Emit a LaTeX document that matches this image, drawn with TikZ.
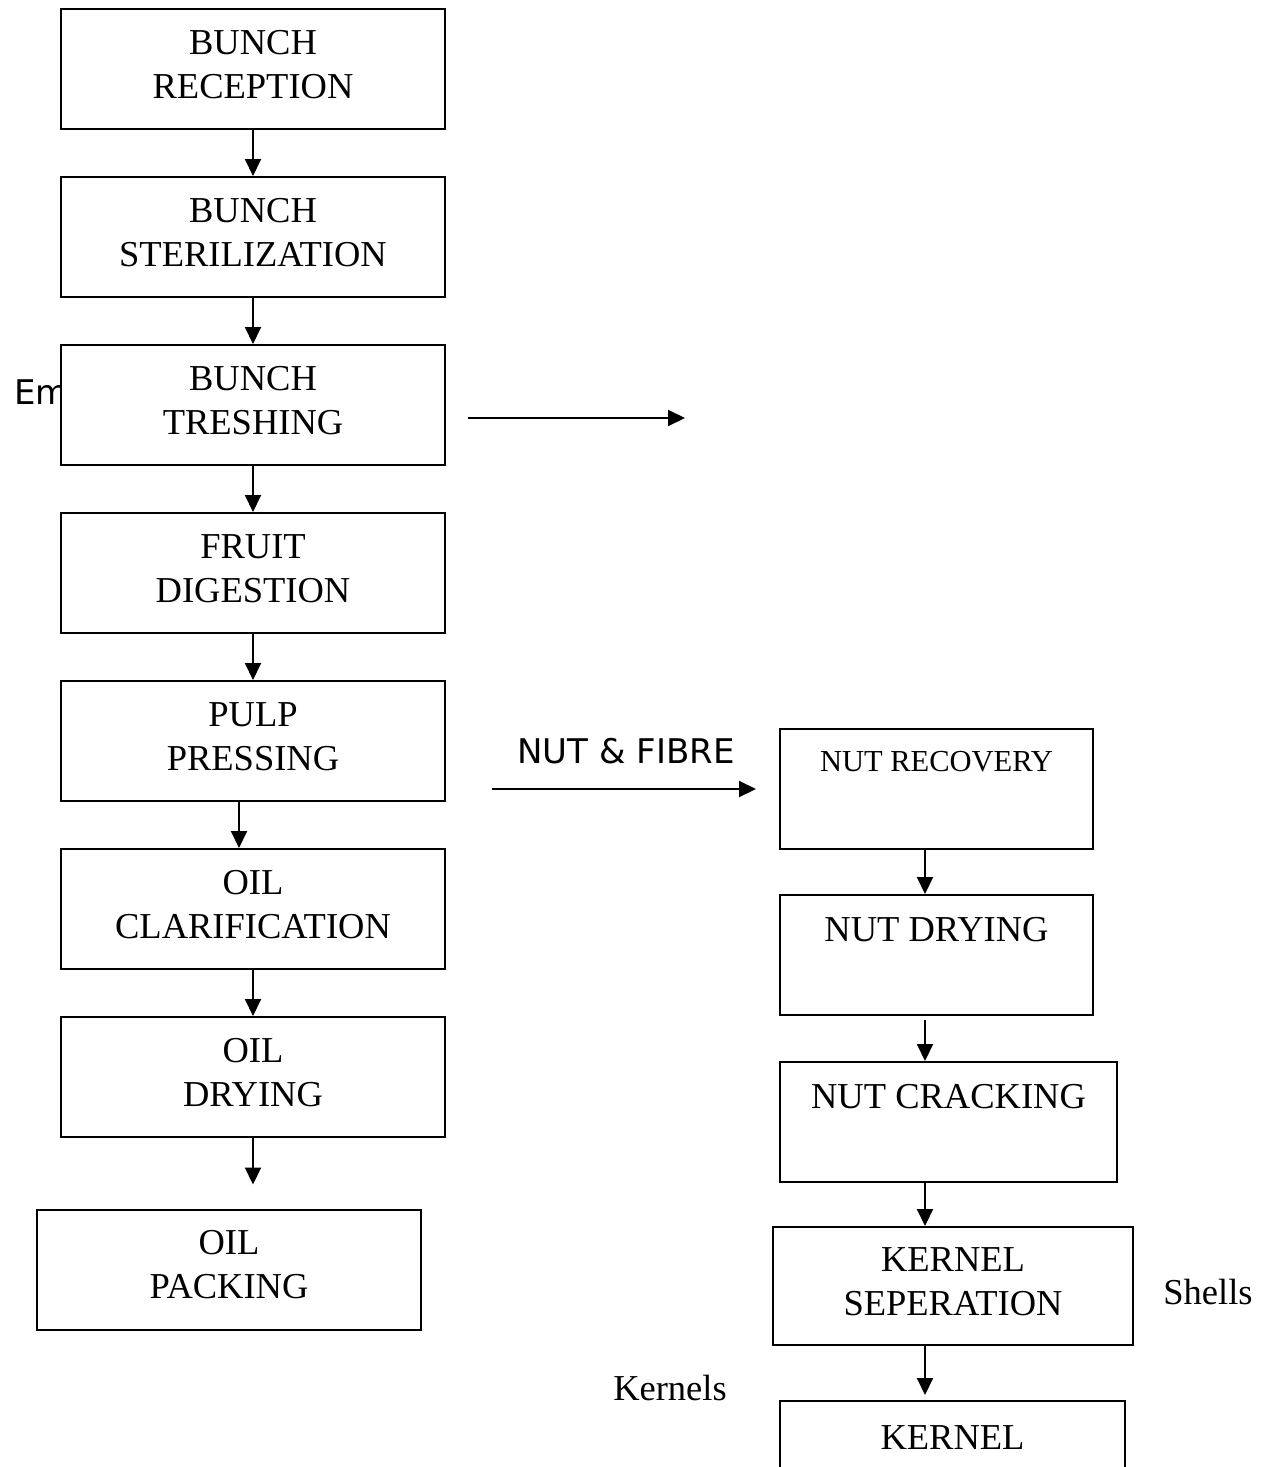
\documentclass[tikz,border=0pt]{standalone}
\usepackage{fontspec}
\setmainfont{Liberation Serif}
\newfontfamily\sansf{DejaVu Sans}
\usetikzlibrary{arrows.meta}
\begin{document}
\begin{tikzpicture}[x=1pt,y=-1pt,
  box/.style={draw,line width=2pt,fill=white,inner sep=0pt,minimum width=384pt,minimum height=120pt},
  txt/.style={inner sep=0pt,anchor=base,align=center,font=\fontsize{36.5}{44}\selectfont},
  stxt/.style={inner sep=0pt,anchor=base,font=\sansf\fontsize{34}{40}\selectfont},
  arr/.style={line width=2pt,-{Triangle[length=17pt,width=16pt]}}]
\clip (0,0) rectangle (1275,1467);
\fill[white] (0,0) rectangle (1275,1467);
% partly hidden label
\node[stxt,anchor=base west] (em) at (14,404) {Em};
% left column
\node[box] (b1) at (253,69) {};
\node[box] (b2) at (253,237) {};
\node[box] (b3) at (253,405) {};
\node[box] (b4) at (253,573) {};
\node[box] (b5) at (253,741) {};
\node[box] (b6) at (253,909) {};
\node[box] (b7) at (253,1077) {};
\node[box] (b8) at (229,1269.5) {};
\node[txt] (t1) at (253,98) {BUNCH\\RECEPTION};
\node[txt] (t2) at (253,266) {BUNCH\\STERILIZATION};
\node[txt] (t3) at (253,434) {BUNCH\\TRESHING};
\node[txt] (t4) at (253,602) {FRUIT\\DIGESTION};
\node[txt] (t5) at (253,770) {PULP\\PRESSING};
\node[txt] (t6) at (253,938) {OIL\\CLARIFICATION};
\node[txt] (t7) at (253,1106) {OIL\\DRYING};
\node[txt] (t8) at (229,1298) {OIL\\PACKING};
\draw[arr] (b1.south) -- (b2.north);
\draw[arr] (b2.south) -- (b3.north);
\draw[arr] (b3.south) -- (b4.north);
\draw[arr] (b4.south) -- (b5.north);
\draw[arr] ([xshift=-14pt]b5.south) -- ([xshift=-14pt]b6.north);
\draw[arr] (b6.south) -- (b7.north);
\draw[arr,shorten >=24pt] (b7.south) -- (b7.south |- b8.north);
% right column
\coordinate (rc) at (925,0);
\node[box,minimum width=313pt,minimum height=120pt] (r1) at (936.5,789) {};
\node[box,minimum width=313pt,minimum height=120pt] (r2) at (936.5,955) {};
\node[box,minimum width=337pt,minimum height=120pt] (r3) at (948.5,1122) {};
\node[box,minimum width=360pt,minimum height=118pt] (r4) at (953,1286) {};
\node[box,minimum width=345pt,minimum height=120pt] (r5) at (952.5,1461) {};
\node[txt,font=\fontsize{30.5}{36}\selectfont] (s1) at (936.5,771) {NUT RECOVERY};
\node[txt] (s2) at (936.5,941) {NUT DRYING};
\node[txt] (s3) at (948.5,1108) {NUT CRACKING};
\node[txt] (s4) at (953,1315) {KERNEL\\SEPERATION};
\node[txt] (s5) at (952.5,1449) {KERNEL};
\draw[arr] (r1.south -| rc) -- (r2.north -| rc);
\draw[arr,shorten <=4pt] (r2.south -| rc) -- (r3.north -| rc);
\draw[arr] (r3.south -| rc) -- (r4.north -| rc);
\draw[arr,shorten >=5pt] (r4.south -| rc) -- (r5.north -| rc);
% side labels
\node[txt] (shells) at (1208,1304) {Shells};
\node[txt] (kernels) at (670,1400) {Kernels};
% horizontal flows
\coordinate (h1) at (468,418);
\coordinate (h2) at (685,418);
\draw[arr] (h1) -- (h2);
\coordinate (nf) at (492,789);
\draw[arr,shorten >=23pt] (nf) -- (r1.west);
\node[stxt] (nflab) at (626,763) {NUT \& FIBRE};
\end{tikzpicture}
\end{document}
